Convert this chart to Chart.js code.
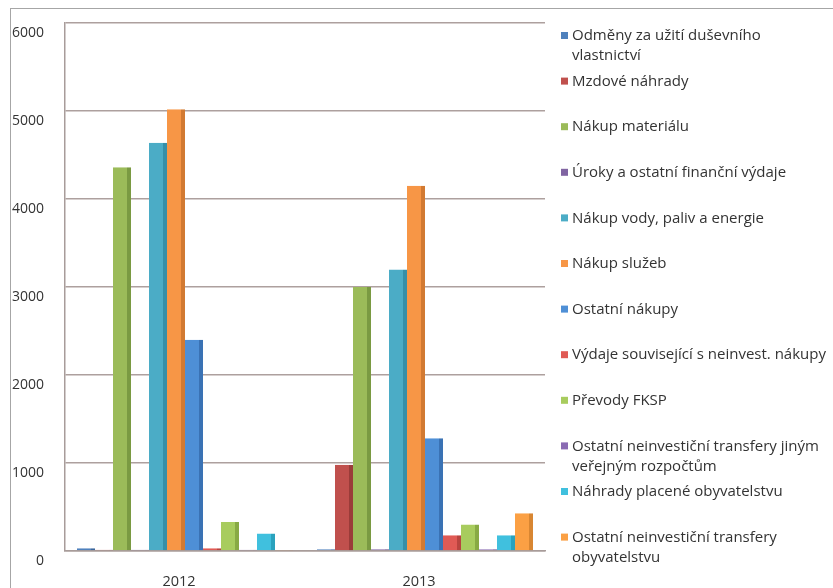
<!DOCTYPE html>
<html>
<head>
<meta charset="utf-8">
<script src="https://cdn.jsdelivr.net/npm/chart.js@4"></script>
<style>
  html, body { margin: 0; padding: 0; background: #ffffff; }
  #wrap { position: relative; width: 833px; height: 588px; overflow: hidden; }
  #frame { position: absolute; left: 10px; top: 8px; width: 900px; height: 700px;
           border-top: 1.5px solid #a6a6a6; border-left: 1.5px solid #a6a6a6; pointer-events: none; }
  canvas { position: absolute; left: 0; top: 0; }
</style>
</head>
<body>
<div id="wrap">
  <canvas id="c" width="833" height="588"></canvas>
  <div id="frame"></div>
</div>
<script>
// Categories
const categories = ['2012', '2013'];

// Series values [2012, 2013]
const odmeny            = [30, 20];
const mzdove            = [15, 980];
const nakupMaterialu    = [4360, 3000];
const uroky             = [15, 20];
const nakupVody         = [4640, 3200];
const nakupSluzeb       = [5020, 4150];
const ostatniNakupy     = [2400, 1280];
const vydajeNeinvest    = [30, 180];
const prevodyFKSP       = [330, 300];
const transferyRozpocty = [15, 20];
const nahradyObyv       = [200, 180];
const transferyObyv     = [10, 430];

// Series names (legend)
const seriesNames = [
  'Odměny za užití duševního\nvlastnictví',
  'Mzdové náhrady',
  'Nákup materiálu',
  'Úroky a ostatní finanční výdaje',
  'Nákup vody, paliv a energie',
  'Nákup služeb',
  'Ostatní nákupy',
  'Výdaje související s neinvest. nákupy',
  'Převody FKSP',
  'Ostatní neinvestiční transfery jiným\nveřejným rozpočtům',
  'Náhrady placené obyvatelstvu',
  'Ostatní neinvestiční transfery\nobyvatelstvu'
];
const seriesValues = [odmeny, mzdove, nakupMaterialu, uroky, nakupVody, nakupSluzeb,
  ostatniNakupy, vydajeNeinvest, prevodyFKSP, transferyRozpocty, nahradyObyv, transferyObyv];
const seriesColors = ['#4f81bd', '#c0504d', '#9bbb59', '#8064a2', '#4bacc6', '#f79646',
  '#4e8fd6', '#e05a55', '#a8cc5e', '#8a6bb3', '#40c0de', '#fba044'];
const sideColors = ['#3b669b', '#9a3c39', '#7a9a42', '#634a85', '#358fa8', '#d27a32',
  '#3a72b4', '#b8443f', '#88aa44', '#6b5095', '#2aa2bd', '#d88632'];

// Y axis ticks
const yMin = 0, yMax = 6000, yStep = 1000;

const datasets = seriesNames.map((n, i) => ({
  label: n.replace('\n', ' '),
  data: seriesValues[i],
  backgroundColor: seriesColors[i],
  borderColor: sideColors[i],
  borderWidth: { top: 0, left: 0, bottom: 0, right: 4 },
  borderSkipped: false,
  categoryPercentage: 0.9,
  barPercentage: 1.0
}));

const legendPlugin = {
  id: 'sideLegend',
  afterDraw(chart) {
    const ctx = chart.ctx;
    ctx.save();
    ctx.font = '15px "Open Sans"';
    ctx.textBaseline = 'middle';
    ctx.textAlign = 'left';
    const x0 = 561, top = 36, slot = 45.6, lineH = 20;
    seriesNames.forEach((n, i) => {
      const y = top + i * slot;
      ctx.fillStyle = seriesColors[i];
      ctx.fillRect(x0, y - 4, 7, 7);
      ctx.fillStyle = '#333333';
      n.split('\n').forEach((line, j) => ctx.fillText(line, x0 + 11, y + j * lineH));
    });
    ctx.restore();
  }
};

new Chart(document.getElementById('c'), {
  type: 'bar',
  data: { labels: categories, datasets },
  plugins: [legendPlugin],
  options: {
    responsive: false,
    animation: false,
    devicePixelRatio: 1,
    layout: { padding: { top: 23, right: 288, bottom: 0, left: 0 } },
    plugins: { legend: { display: false }, tooltip: { enabled: false }, title: { display: false } },
    scales: {
      x: {
        grid: { display: false },
        border: { display: true, color: '#a89c9a', width: 1.5 },
        ticks: { color: '#333333', font: { family: 'Open Sans', size: 14.5 }, padding: 14, labelOffset: -6 },
        afterFit(s) { s.height = 37; s.paddingLeft = 0; s.paddingRight = 0; }
      },
      y: {
        min: yMin, max: yMax,
        grid: { color: '#ada09e', lineWidth: 1.5, drawTicks: false },
        border: { display: true, color: '#a89c9a', width: 1.5 },
        ticks: { stepSize: yStep, color: '#333333', font: { family: 'Open Sans', size: 14 }, padding: 21, labelOffset: 10,
                 callback: (v) => String(v) },
        afterFit(s) { s.width = 65; s.paddingTop = 0; s.paddingBottom = 0; }
      }
    }
  }
});
</script>
</body>
</html>
